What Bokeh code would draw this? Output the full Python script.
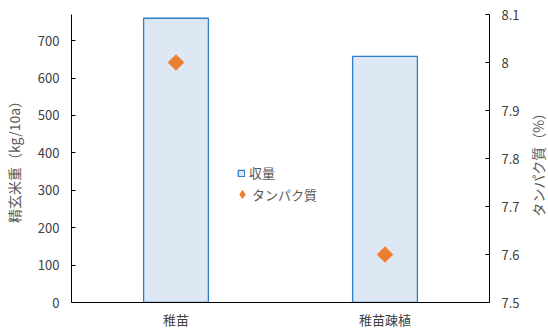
import numpy as np
from bokeh.plotting import figure
from bokeh.layouts import row
from bokeh.core.properties import value
from bokeh.models import (FactorRange, Range1d, LinearAxis, FixedTicker, Legend, LegendItem,
                          CustomJSTickFormatter, ColumnDataSource)
from bokeh.embed import file_html
from bokeh.resources import INLINE

categories = ["稚苗", "稚苗疎植"]
yield_values = [760, 658]
protein_values = [8.0, 7.6]
left_ticks = [0, 100, 200, 300, 400, 500, 600, 700]
right_ticks = [7.5, 7.6, 7.7, 7.8, 7.9, 8.0, 8.1]
right_title = "タンパク質（%）"

FONT = "Noto Sans CJK JP"
TXT = "#595959"

src = ColumnDataSource(dict(cat=categories, y=yield_values, p=protein_values))

p = figure(width=525, height=331, x_range=FactorRange(*categories), y_range=Range1d(0, 770),
           output_backend="svg", toolbar_location=None,
           min_border_left=71, min_border_right=36, min_border_top=14, min_border_bottom=29)
p.extra_y_ranges = {"prot": Range1d(7.5, 8.1)}
p.outline_line_color = None
p.xgrid.grid_line_color = None
p.ygrid.grid_line_color = None
p.background_fill_color = None
p.border_fill_color = "white"

bars = p.vbar(x="cat", top="y", width=0.31, source=src, fill_color="#dde8f4",
              line_color="#2e7dc6", line_width=1.3)
pts = p.scatter(x="cat", y="p", source=src, y_range_name="prot", marker="square",
                angle=np.pi / 4, size=11, fill_color="#ed7d31", line_color="#ed7d31")
# legend-only glyph (NaN value, not drawn in the plot)
leg_pt = p.scatter(x=[categories[0]], y=[np.nan], y_range_name="prot", marker="diamond",
                   fill_color="#ed7d31", line_color="#ed7d31")

# left axis
ya = p.yaxis[0]
ya.ticker = FixedTicker(ticks=left_ticks)
ya.axis_label = "精玄米重（kg/10a）"
ya.axis_label_text_font = FONT
ya.axis_label_text_font_style = "normal"
ya.axis_label_text_font_size = "14px"
ya.axis_label_text_color = TXT
ya.axis_label_standoff = 11
ya.major_label_text_font = FONT
ya.major_label_text_font_size = "13px"
ya.major_label_text_color = "#404040"
ya.major_label_standoff = 12
ya.major_tick_in = 4
ya.major_tick_out = 0
ya.minor_tick_line_color = None
ya.axis_line_color = "black"
ya.major_tick_line_color = "black"

# bottom axis
xa = p.xaxis[0]
xa.major_label_text_font = FONT
xa.major_label_text_font_size = "13px"
xa.major_label_text_color = "#404040"
xa.major_label_standoff = 7
xa.major_tick_in = 0
xa.major_tick_out = 0
xa.axis_line_color = "black"

# right axis (ticks and labels only)
ra = LinearAxis(y_range_name="prot", ticker=FixedTicker(ticks=right_ticks),
                formatter=CustomJSTickFormatter(code="return String(Math.round(tick*10)/10)"))
ra.major_label_text_font = FONT
ra.major_label_text_font_size = "13px"
ra.major_label_text_color = "#404040"
ra.major_label_standoff = 12
ra.major_tick_in = 4
ra.major_tick_out = 0
ra.minor_tick_line_color = None
ra.axis_line_color = "black"
ra.major_tick_line_color = "black"
p.add_layout(ra, "right")

leg1 = Legend(items=[LegendItem(label="収量", renderers=[bars])], location=(166, 120),
              glyph_width=8, glyph_height=8, label_height=14, label_standoff=4,
              padding=0, margin=0, border_line_color=None, background_fill_alpha=0,
              label_text_font=FONT, label_text_font_size="13px", label_text_color=TXT)
leg2 = Legend(items=[LegendItem(label="タンパク質", renderers=[leg_pt])], location=(161, 98),
              glyph_width=20, glyph_height=20, label_height=14, label_standoff=0,
              padding=0, margin=0, border_line_color=None, background_fill_alpha=0,
              label_text_font=FONT, label_text_font_size="13px", label_text_color=TXT)
p.add_layout(leg1, "center")
p.add_layout(leg2, "center")

# narrow strip holding the right-axis title, reading bottom to top
t = figure(width=23, height=331, x_range=Range1d(0, 1), y_range=Range1d(0, 1),
           output_backend="svg", toolbar_location=None, x_axis_type=None, y_axis_type=None,
           min_border=0, min_border_left=0, min_border_right=0, min_border_top=0,
           min_border_bottom=0)
t.outline_line_color = None
t.background_fill_color = "white"
t.border_fill_color = "white"
t.text(x=[0.56], y=[0.49], text=[right_title], angle=np.pi / 2, text_align="center",
       text_baseline="middle", text_font=value(FONT), text_font_size="14px", text_color=TXT)

layout = row(p, t, spacing=0)
open("out.html", "w").write(file_html(layout, INLINE))
